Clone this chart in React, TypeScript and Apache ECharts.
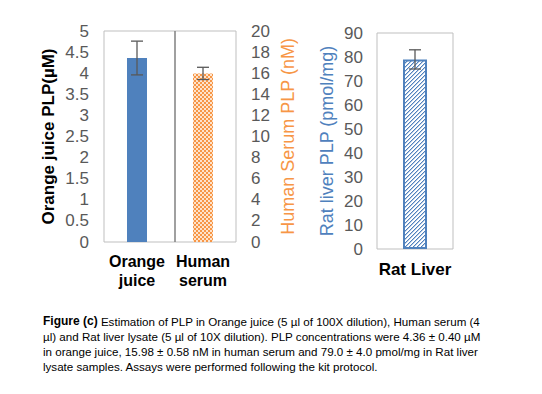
import React, { useEffect, useRef } from "react";
import * as echarts from "echarts";

const leftCategories = ["Orange\njuice", "Human\nserum"];
const orangeJuiceMean = [4.36];
const orangeJuiceErr = [0.4];
const serumMean = [15.98];
const serumErr = [0.58];
const ratCategories = ["Rat Liver"];
const ratMean = [79.0];
const ratErr = [4.0];

const captionLines = [
  "Estimation of PLP in Orange juice (5 µl of 100X dilution), Human serum (4",
  "µl) and Rat liver lysate (5 µl of 10X dilution). PLP concentrations were 4.36 ± 0.40 µM",
  "in orange juice, 15.98 ± 0.58 nM in human serum and 79.0 ± 4.0 pmol/mg in Rat liver",
  "lysate samples. Assays were performed following the kit protocol.",
];

const FONT = "'Liberation Sans', Arial, sans-serif";
const BLUE = "#4F81BD";
const ORANGE = "#F79646";
const GRAY = "#595959";

function checkerPattern() {
  const c = document.createElement("canvas");
  c.width = 4;
  c.height = 4;
  const ctx = c.getContext("2d")!;
  ctx.fillStyle = ORANGE;
  ctx.fillRect(0, 0, 4, 4);
  ctx.fillStyle = "#FDE3CC";
  ctx.fillRect(0, 0, 2, 2);
  ctx.fillRect(2, 2, 2, 2);
  return { image: c.toDataURL(), imageWidth: 4, imageHeight: 4, repeat: "repeat" };
}

function hatchPattern() {
  const c = document.createElement("canvas");
  c.width = 4;
  c.height = 4;
  const ctx = c.getContext("2d")!;
  ctx.fillStyle = "#FFFFFF";
  ctx.fillRect(0, 0, 4, 4);
  for (let i = 0; i < 4; i++) {
    ctx.fillStyle = BLUE;
    ctx.fillRect(i, 3 - i, 1, 1);
    ctx.fillStyle = "#B9CCE4";
    ctx.fillRect((i + 1) % 4, 3 - i, 1, 1);
  }
  return { image: c.toDataURL(), imageWidth: 4, imageHeight: 4, repeat: "repeat" };
}

function errorRenderer(api: any, color = GRAY) {
  const x = api.value(0);
  const lo = api.coord([x, api.value(1)]);
  const hi = api.coord([x, api.value(2)]);
  const half = 6;
  const style = { stroke: color, lineWidth: 1.3 };
  return {
    type: "group",
    children: [
      { type: "line", shape: { x1: lo[0], y1: lo[1], x2: hi[0], y2: hi[1] }, style },
      { type: "line", shape: { x1: lo[0] - half, y1: lo[1], x2: lo[0] + half, y2: lo[1] }, style },
      { type: "line", shape: { x1: hi[0] - half, y1: hi[1], x2: hi[0] + half, y2: hi[1] }, style },
    ],
  };
}

export default function App() {
  const ref = useRef<HTMLDivElement>(null);
  useEffect(() => {
    document.body.style.margin = "0";
    const chart = echarts.init(ref.current!, null, { renderer: "svg" });
    const tickLabel = { color: GRAY, fontSize: 17, fontFamily: FONT };
    const option: any = {
      animation: false,
      backgroundColor: "#FFFFFF",
      grid: [
        { left: 104, top: 31, width: 132, height: 211, show: true, borderColor: "#BFBFBF", borderWidth: 1, backgroundColor: "transparent" },
        { left: 377, top: 33, width: 76, height: 216, show: true, borderColor: "#BFBFBF", borderWidth: 1, backgroundColor: "transparent" },
      ],
      xAxis: [
        {
          type: "category",
          gridIndex: 0,
          data: leftCategories,
          axisLine: { show: false },
          axisTick: { show: false },
          axisLabel: { interval: 0, color: "#000", fontWeight: "bold", fontSize: 16, fontFamily: FONT, lineHeight: 19, margin: 10 },
        },
        {
          type: "category",
          gridIndex: 1,
          data: ratCategories,
          axisLine: { show: false },
          axisTick: { show: false },
          axisLabel: { interval: 0, color: "#000", fontWeight: "bold", fontSize: 17, fontFamily: FONT, margin: 12 },
        },
      ],
      yAxis: [
        {
          type: "value",
          gridIndex: 0,
          min: 0,
          max: 5,
          interval: 0.5,
          position: "left",
          axisLine: { show: false },
          axisTick: { show: false },
          splitLine: { show: false },
          axisLabel: { ...tickLabel, margin: 15 },
          name: "Orange juice PLP(µM)",
          nameLocation: "middle",
          nameGap: 47,
          nameTextStyle: { color: "#000", fontWeight: "bold", fontSize: 17, fontFamily: FONT },
        },
        {
          type: "value",
          gridIndex: 0,
          min: 0,
          max: 20,
          interval: 2,
          position: "right",
          axisLine: { show: false },
          axisTick: { show: false },
          splitLine: { show: false },
          axisLabel: { ...tickLabel, margin: 15 },
          name: "Human Serum PLP (nM)",
          nameLocation: "middle",
          nameGap: 43,
          nameTextStyle: { color: ORANGE, fontSize: 18, fontFamily: FONT },
        },
        {
          type: "value",
          gridIndex: 1,
          min: 0,
          max: 90,
          interval: 10,
          position: "left",
          axisLine: { show: false },
          axisTick: { show: false },
          splitLine: { show: false },
          axisLabel: { ...tickLabel, margin: 14 },
          name: "Rat liver PLP (pmol/mg)",
          nameLocation: "middle",
          nameGap: 41,
          nameTextStyle: { color: BLUE, fontSize: 18, fontFamily: FONT },
        },
      ],
      series: [
        {
          type: "bar",
          xAxisIndex: 0,
          yAxisIndex: 0,
          data: [orangeJuiceMean[0], null],
          barWidth: 20,
          barGap: "-100%",
          itemStyle: { color: BLUE },
        },
        {
          type: "bar",
          xAxisIndex: 0,
          yAxisIndex: 1,
          data: [null, serumMean[0]],
          barWidth: 20,
          barGap: "-100%",
          itemStyle: { color: checkerPattern() },
        },
        {
          type: "bar",
          xAxisIndex: 1,
          yAxisIndex: 2,
          data: ratMean,
          barWidth: 24,
          itemStyle: { color: hatchPattern(), borderColor: BLUE, borderWidth: 2 },
        },
        {
          type: "custom",
          xAxisIndex: 0,
          yAxisIndex: 0,
          data: orangeJuiceMean.map((m, i) => [0, m - orangeJuiceErr[i], m + orangeJuiceErr[i]]),
          encode: { x: 0, y: [1, 2] },
          renderItem: (_p: any, api: any) => errorRenderer(api),
          z: 5,
        },
        {
          type: "custom",
          xAxisIndex: 0,
          yAxisIndex: 1,
          data: serumMean.map((m, i) => [1, m - serumErr[i], m + serumErr[i]]),
          encode: { x: 0, y: [1, 2] },
          renderItem: (_p: any, api: any) => errorRenderer(api),
          z: 5,
        },
        {
          type: "custom",
          xAxisIndex: 1,
          yAxisIndex: 2,
          data: ratMean.map((m, i) => [0, m - ratErr[i], m + ratErr[i]]),
          encode: { x: 0, y: [1, 2] },
          renderItem: (_p: any, api: any) => errorRenderer(api),
          z: 5,
        },
      ],
      graphic: [
        {
          type: "line",
          shape: { x1: 175, y1: 31, x2: 175, y2: 242 },
          style: { stroke: "#808080", lineWidth: 1.5 },
          z: 10,
        },
        ...captionLines.map((line, i) => ({
          type: "text",
          left: 43,
          top: 315 + i * 15,
          style: {
            text: i === 0 ? "{b|Figure (c)} " + line : line,
            fontSize: 11.6,
            fontFamily: FONT,
            fill: "#000",
            rich: { b: { fontWeight: "bold", fontSize: 12, fontFamily: FONT, fill: "#000" } },
          },
        })),
      ],
    };
    chart.setOption(option);
    return () => chart.dispose();
  }, []);
  return <div ref={ref} style={{ position: "fixed", left: 0, top: 0, width: 542, height: 394 }} />;
}
